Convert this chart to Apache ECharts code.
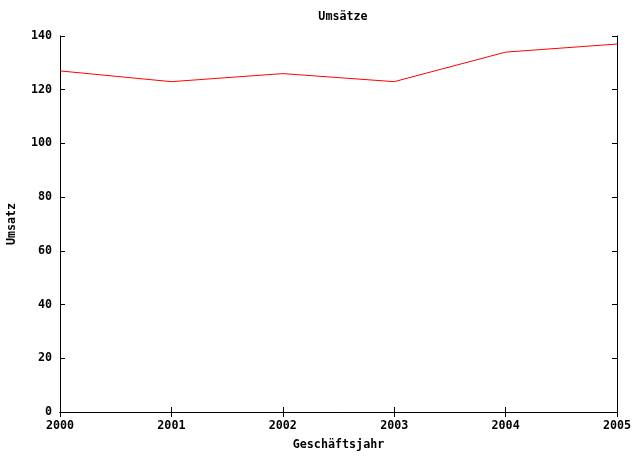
<!DOCTYPE html>
<html>
<head>
<meta charset="utf-8">
<script src="https://cdn.jsdelivr.net/npm/echarts@6/dist/echarts.min.js"></script>
<style>
    html, body { margin: 0; padding: 0; background: #ffffff; }
    #chart { width: 638px; height: 460px; }
</style>
</head>
<body>
<div id="chart"></div>
<script>
    // Daten
    const years = [2000, 2001, 2002, 2003, 2004, 2005]
    const umsatz = [127, 123, 126, 123, 134, 137]
    const yTicks = [0, 20, 40, 60, 80, 100, 120, 140]

    const font = 'DejaVu Sans Mono'
    const fs = 11.7
    const chart = echarts.init(document.getElementById('chart'))

    // gemeinsame Achsen-Optik (gnuplot-Stil: Ticks nach innen)
    const line = { show: true, lineStyle: { color: '#000', width: 1 } }
    const tick = { show: true, inside: true, length: 5, lineStyle: { color: '#000', width: 1 } }

    const option = {
        animation: false,
        title: {
            text: 'Umsätze',
            left: 338,
            textAlign: 'center',
            top: 6,
            textStyle: { fontFamily: font, fontSize: fs, fontWeight: 'bold', color: '#000' }
        },
        grid: { left: 60, right: 21, top: 36, bottom: 48, containLabel: false, outerBoundsMode: 'none' },
        xAxis: [
            {
                type: 'value',
                min: years[0],
                max: years[years.length - 1],
                interval: 1,
                position: 'bottom',
                name: 'Geschäftsjahr',
                nameLocation: 'middle',
                nameGap: 27,
                nameTextStyle: { fontFamily: font, fontSize: fs, fontWeight: 'bold', color: '#000' },
                axisLine: line,
                axisTick: tick,
                splitLine: { show: false },
                axisLabel: {
                    fontFamily: font, fontSize: fs, fontWeight: 'bold', color: '#000', margin: 8,
                    formatter: v => String(v)
                }
            },
            {
                type: 'value',
                min: years[0],
                max: years[years.length - 1],
                interval: 1,
                position: 'top',
                axisLine: line,
                axisTick: tick,
                splitLine: { show: false },
                axisLabel: { show: false }
            }
        ],
        yAxis: [
            {
                type: 'value',
                min: yTicks[0],
                max: yTicks[yTicks.length - 1],
                interval: 20,
                position: 'left',
                name: 'Umsatz',
                nameLocation: 'middle',
                nameGap: 42,
                nameRotate: 90,
                nameTextStyle: { fontFamily: font, fontSize: fs, fontWeight: 'bold', color: '#000' },
                axisLine: line,
                axisTick: tick,
                splitLine: { show: false },
                axisLabel: { fontFamily: font, fontSize: fs, fontWeight: 'bold', color: '#000', margin: 8 }
            },
            {
                type: 'value',
                min: yTicks[0],
                max: yTicks[yTicks.length - 1],
                interval: 20,
                position: 'right',
                axisLine: line,
                axisTick: tick,
                splitLine: { show: false },
                axisLabel: { show: false }
            }
        ],
        series: [
            {
                name: 'Umsatz',
                type: 'line',
                xAxisIndex: 0,
                yAxisIndex: 0,
                showSymbol: false,
                symbol: 'none',
                lineStyle: { color: '#ff0000', width: 1 },
                data: years.map((y, i) => [y, umsatz[i]])
            }
        ]
    }
    chart.setOption(option)
</script>
</body>
</html>
